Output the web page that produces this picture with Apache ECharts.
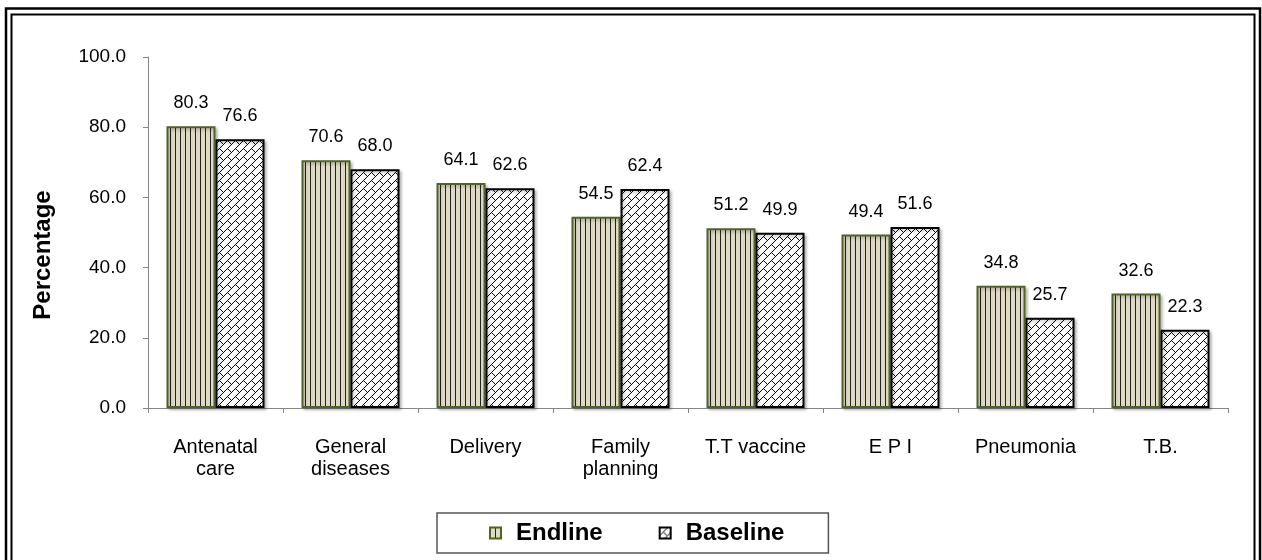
<!DOCTYPE html>
<html>
<head>
<meta charset="utf-8">
<title>Endline vs Baseline</title>
<script src="https://cdn.jsdelivr.net/npm/echarts@6/dist/echarts.min.js"></script>
<style>
  html, body { margin: 0; padding: 0; background: #fff; }
  #chart { width: 1262px; height: 560px; }
</style>
</head>
<body>
<div id="chart"></div>
<script>
// data
const categories = ['Antenatal\ncare', 'General\ndiseases', 'Delivery', 'Family\nplanning', 'T.T vaccine', 'E P I', 'Pneumonia', 'T.B.']
const endline = [80.3, 70.6, 64.1, 54.5, 51.2, 49.4, 34.8, 32.6]
const baseline = [76.6, 68.0, 62.6, 62.4, 49.9, 51.6, 25.7, 22.3]
const yTicks = [0, 20, 40, 60, 80, 100]

const FONT = '"Liberation Sans", Arial, sans-serif'

// vertical stripes on beige
function stripeTile() {
  const c = document.createElement('canvas')
  c.width = 5; c.height = 5
  const g = c.getContext('2d')
  g.fillStyle = '#ddd9c3'
  g.fillRect(0, 0, 5, 5)
  g.fillStyle = '#222'
  g.fillRect(0, 0, 1, 5)
  return c
}

// diagonal brick, 8x8 tile
function brickTile() {
  const c = document.createElement('canvas')
  c.width = 8; c.height = 8
  const g = c.getContext('2d')
  g.fillStyle = '#fff'
  g.fillRect(0, 0, 8, 8)
  g.fillStyle = '#000'
  for (let y = 0; y < 8; y++) {
    for (let x = 0; x < 8; x++) {
      if ((x + y) % 8 === 7) g.fillRect(x, y, 1, 1)
    }
  }
  // joints
  g.fillRect(4, 5, 1, 1)
  g.fillRect(5, 6, 1, 1)
  g.fillRect(6, 7, 1, 1)
  return c
}

const chart = echarts.init(document.getElementById('chart'))

const option = {
  animation: false,
  backgroundColor: '#fff',
  grid: { left: 148, right: 34, top: 57, bottom: 152, containLabel: false },
  graphic: [
    { type: 'rect', shape: { x: 6, y: 8.5, width: 1254, height: 620 }, style: { fill: 'none', stroke: '#000', lineWidth: 2.5 }, silent: true },
    { type: 'rect', shape: { x: 11.5, y: 14.5, width: 1243, height: 620 }, style: { fill: 'none', stroke: '#000', lineWidth: 2 }, silent: true },
    {
      type: 'text', x: 43, y: 255, rotation: Math.PI / 2,
      style: { text: 'Percentage', font: 'bold 24px ' + FONT, fill: '#000', align: 'center', verticalAlign: 'middle' }
    }
  ],
  legend: {
    data: ['Endline', 'Baseline'],
    left: 437,
    top: 513,
    padding: [8, 44, 8, 52],
    borderColor: '#555',
    borderWidth: 1.5,
    icon: 'rect',
    itemWidth: 11,
    itemHeight: 11,
    itemGap: 56,
    textStyle: { fontFamily: FONT, fontSize: 24, fontWeight: 'bold', color: '#000', padding: [0, 0, 0, 10] }
  },
  xAxis: {
    type: 'category',
    data: categories,
    axisLine: { lineStyle: { color: '#868686', width: 1 } },
    axisTick: { show: true, length: 5, lineStyle: { color: '#868686' } },
    axisLabel: { fontFamily: FONT, fontSize: 20, color: '#000', margin: 28, lineHeight: 22, interval: 0 }
  },
  yAxis: {
    type: 'value',
    min: yTicks[0],
    max: yTicks[yTicks.length - 1],
    interval: 20,
    axisLine: { show: true, lineStyle: { color: '#868686', width: 1 } },
    axisTick: { show: true, length: 5, lineStyle: { color: '#868686' } },
    splitLine: { show: false },
    axisLabel: { fontFamily: FONT, fontSize: 19, color: '#000', margin: 22, formatter: v => v.toFixed(1) }
  },
  series: [
    {
      name: 'Endline',
      type: 'bar',
      data: endline,
      barWidth: 49,
      barGap: '0%',
      itemStyle: {
        color: { image: stripeTile(), repeat: 'repeat' },
        borderColor: '#4f6228',
        borderWidth: 2,
        shadowColor: 'rgba(0,0,0,0.25)', shadowBlur: 3, shadowOffsetX: 2, shadowOffsetY: 2
      },
      label: { show: true, position: 'top', distance: 14, fontFamily: FONT, fontSize: 18, color: '#000', formatter: p => p.value.toFixed(1) }
    },
    {
      name: 'Baseline',
      type: 'bar',
      data: baseline,
      barWidth: 49,
      itemStyle: {
        color: { image: brickTile(), repeat: 'repeat' },
        borderColor: '#000',
        borderWidth: 2,
        shadowColor: 'rgba(0,0,0,0.25)', shadowBlur: 3, shadowOffsetX: 2, shadowOffsetY: 2
      },
      label: { show: true, position: 'top', distance: 14, fontFamily: FONT, fontSize: 18, color: '#000', formatter: p => p.value.toFixed(1) }
    }
  ]
}

chart.setOption(option)
</script>
</body>
</html>
